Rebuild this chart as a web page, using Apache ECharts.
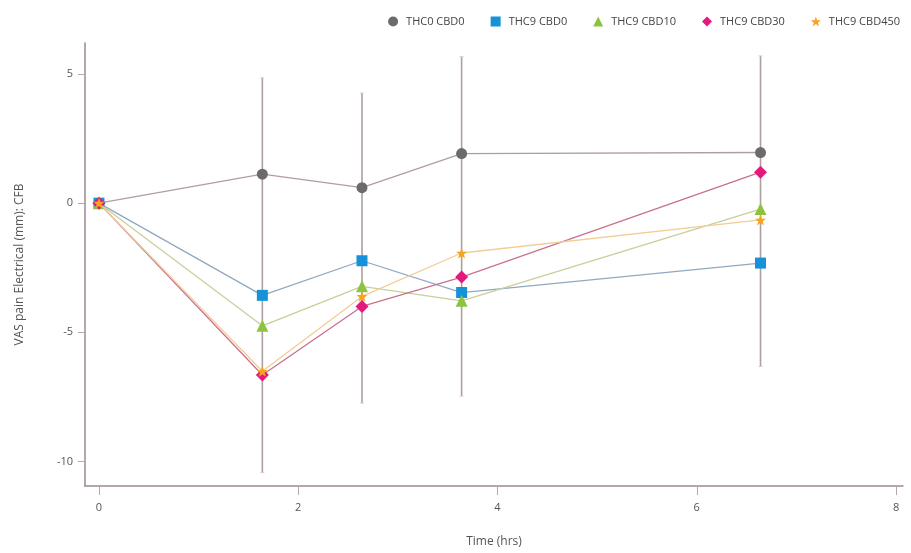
<!DOCTYPE html>
<html>
<head>
<meta charset="utf-8">
<script src="https://cdn.jsdelivr.net/npm/echarts@6/dist/echarts.min.js"></script>
<style>
html,body{margin:0;padding:0;background:#fff;}
#chart{width:911px;height:553px;}
</style>
</head>
<body>
<div id="chart"></div>
<script>
var times = [0, 1.64, 2.64, 3.64, 6.64];
var seriesNames = ['THC0 CBD0', 'THC9 CBD0', 'THC9 CBD10', 'THC9 CBD30', 'THC9 CBD450'];
var thc0cbd0 = [0, 1.12, 0.6, 1.92, 1.96];
var thc9cbd0 = [0, -3.57, -2.23, -3.46, -2.32];
var thc9cbd10 = [0, -4.75, -3.22, -3.78, -0.23];
var thc9cbd30 = [0, -6.65, -4.0, -2.86, 1.2];
var thc9cbd450 = [0, -6.51, -3.61, -1.93, -0.65];
var errTimes = [1.64, 2.64, 3.64, 6.64];
var errHigh = [4.85, 4.26, 5.67, 5.7];
var errLow = [-10.43, -7.74, -7.47, -6.32];
var xTicks = [0, 2, 4, 6, 8];
var yTicks = [-10, -5, 0, 5];

var colors = ['#6b6b6b', '#1592d8', '#8cc43f', '#e3197e', '#f7a31c'];
var lineColors = ['#b09e9e', '#8fa9bf', '#c9cf98', '#c9708f', '#f2cd95'];
var starPath = 'path://M12,0 L15,9 L24,9 L17,14.5 L19.5,23.5 L12,18 L4.5,23.5 L7,14.5 L0,9 L9,9 Z';
var symbols = ['circle', 'rect', 'triangle', 'diamond', starPath];
var values = [thc0cbd0, thc9cbd0, thc9cbd10, thc9cbd30, thc9cbd450];

var series = [{
  type: 'custom',
  name: 'err',
  z: 1,
  silent: true,
  data: errTimes.map(function (t, i) { return [t, errLow[i], errHigh[i]]; }),
  renderItem: function (params, api) {
    var lo = api.coord([api.value(0), api.value(1)]);
    var hi = api.coord([api.value(0), api.value(2)]);
    return {
      type: 'group',
      children: [
        { type: 'line', shape: { x1: lo[0], y1: lo[1], x2: hi[0], y2: hi[1] }, style: { stroke: '#ae9f9f', lineWidth: 1.6 } },
        { type: 'line', shape: { x1: lo[0] - 2, y1: lo[1], x2: lo[0] + 2, y2: lo[1] }, style: { stroke: '#d8cccc', lineWidth: 1 } },
        { type: 'line', shape: { x1: hi[0] - 2, y1: hi[1], x2: hi[0] + 2, y2: hi[1] }, style: { stroke: '#d8cccc', lineWidth: 1 } }
      ]
    };
  }
}];
seriesNames.forEach(function (n, i) {
  series.push({
    type: 'line',
    name: n,
    z: 2 + i,
    data: times.map(function (t, j) { return [t, values[i][j]]; }),
    symbol: symbols[i],
    symbolSize: i === 2 ? 12 : (i === 3 ? 13 : 11),
    showAllSymbol: true,
    itemStyle: { color: colors[i] },
    lineStyle: { color: lineColors[i], width: 1.3 },
    emphasis: { disabled: true }
  });
});

var chart = echarts.init(document.getElementById('chart'), null, { renderer: 'canvas' });
chart.setOption({
  animation: false,
  backgroundColor: '#ffffff',
  textStyle: { fontFamily: 'Open Sans' },
  legend: {
    data: seriesNames.map(function (n, i) { return { name: n, icon: symbols[i] }; }),
    right: 6,
    top: 11,
    itemWidth: 10,
    itemHeight: 10,
    itemGap: 26,
    textStyle: { fontSize: 11, color: '#444', fontFamily: 'Open Sans', padding: [0, 0, 0, 3] }
  },
  grid: { left: 85, right: 8, top: 43, bottom: 67, containLabel: false },
  xAxis: {
    type: 'value',
    min: -0.14,
    max: 8.07,
    name: 'Time (hrs)',
    nameLocation: 'middle',
    nameGap: 50,
    nameTextStyle: { fontSize: 12, color: '#555' },
    axisLine: { onZero: false, lineStyle: { color: '#9c8a8a', width: 1.5 } },
    axisTick: { show: true, length: 9, lineStyle: { color: '#b8a8a8' }, customValues: xTicks },
    axisLabel: { fontSize: 11, color: '#555', margin: 16, customValues: xTicks },
    splitLine: { show: false }
  },
  yAxis: {
    type: 'value',
    min: -10.95,
    max: 6.2,
    name: 'VAS pain Electrical (mm): CFB',
    nameLocation: 'middle',
    nameGap: 59,
    nameTextStyle: { fontSize: 12, color: '#555' },
    axisLine: { onZero: false, lineStyle: { color: '#9c8a8a', width: 1.5 } },
    axisTick: { show: true, length: 7, lineStyle: { color: '#b8a8a8' }, customValues: yTicks },
    axisLabel: { fontSize: 11, color: '#555', margin: 12, customValues: yTicks },
    splitLine: { show: false }
  },
  series: series
});
</script>
</body>
</html>
